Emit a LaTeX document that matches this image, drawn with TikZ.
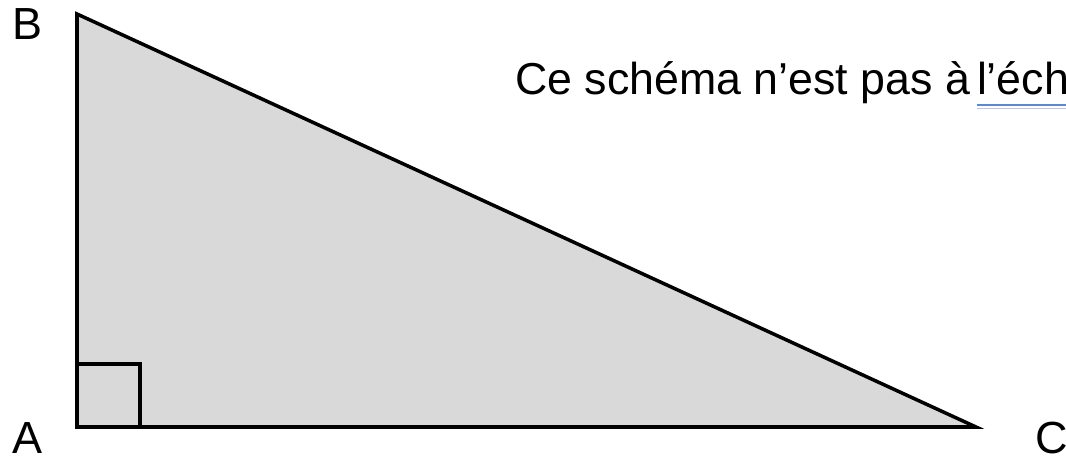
\documentclass[tikz,border=0pt]{standalone}
\usepackage{fontspec}
\setmainfont{Liberation Sans}
\usetikzlibrary{positioning}
\definecolor{trifill}{HTML}{D9D9D9}
\definecolor{spellblue}{HTML}{5F86D6}
\tikzset{
  label text/.style={font=\fontsize{32}{38}\selectfont, inner sep=0pt},
  note text/.style={font=\fontsize{31.8}{38}\selectfont, inner sep=0pt, anchor=base west},
}
\begin{document}
\begin{tikzpicture}[x=0.025cm, y=-0.025cm]
    \useasboundingbox (0,0) rectangle (1066,459);
    \clip (0,0) rectangle (1066,459);
    % Right triangle
    \coordinate (A) at (77,427);
    \coordinate (B) at (77,14);
    \coordinate (C) at (976,427);
    \draw[line width=2.5pt, fill=trifill, line join=miter] (A) -- (B) -- (C) -- cycle;
    \draw[line width=2.5pt] (A) rectangle ++(63,-63); % right angle mark

    % Vertex labels
    \node[label text] (labB) at (28,24) {B};
    \node[label text] (labA) at (28,438) {A};
    \node[label text] (labC) at (1052,438) {C};

    % Note
    \node[note text] (note) at (515,95) {Ce schéma n’est pas à};
    \node[note text, base right=0.45em of note] (scale) {l’éch};
    \draw[spellblue, line width=1.4pt] ([yshift=-7pt]scale.base west) -- ([yshift=-7pt]scale.base east);
    \draw[spellblue!45, line width=0.8pt] ([yshift=-9.3pt]scale.base west) -- ([yshift=-9.3pt]scale.base east);
\end{tikzpicture}
\end{document}
